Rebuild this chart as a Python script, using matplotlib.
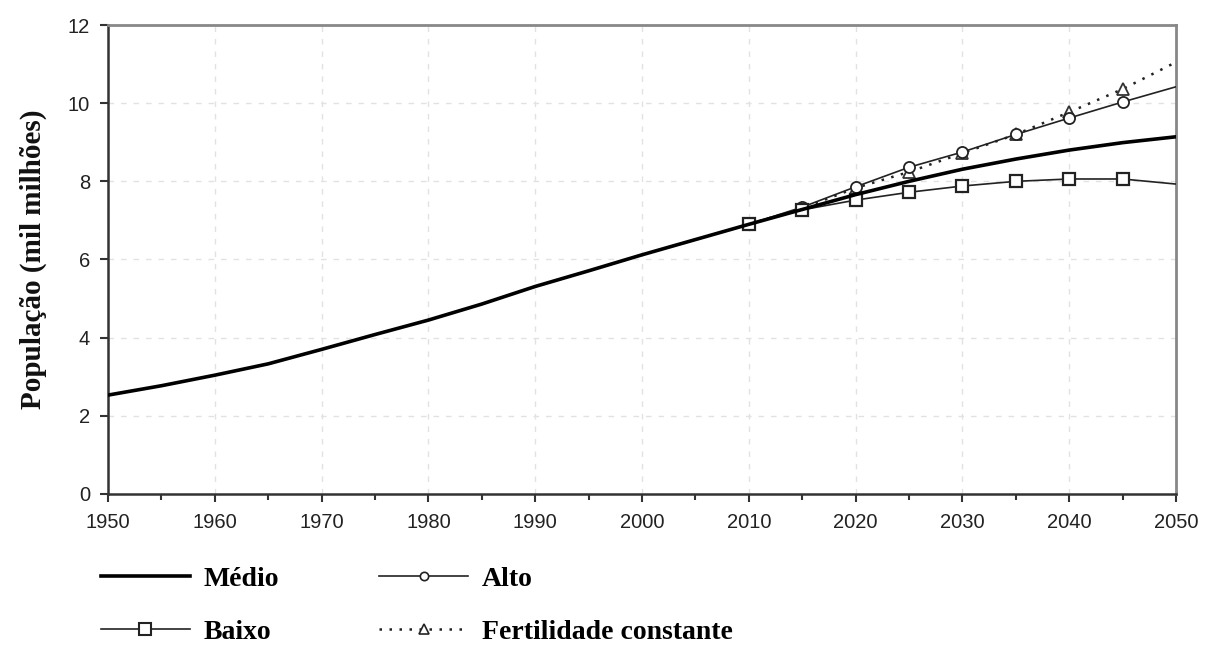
import numpy as np
from matplotlib import pyplot as plt
from matplotlib.lines import Line2D

years_hist = [1950, 1955, 1960, 1965, 1970, 1975, 1980, 1985, 1990, 1995,
              2000, 2005, 2010, 2015, 2020, 2025, 2030, 2035, 2040, 2045, 2050]
medio = [2.53, 2.77, 3.04, 3.33, 3.70, 4.08, 4.45, 4.86, 5.31, 5.71,
         6.12, 6.51, 6.90, 7.28, 7.66, 8.00, 8.31, 8.57, 8.80, 8.99, 9.14]

years_proj = [2010, 2015, 2020, 2025, 2030, 2035, 2040, 2045, 2050]
alto = [6.90, 7.34, 7.86, 8.36, 8.75, 9.20, 9.62, 10.03, 10.42]
baixo = [6.90, 7.27, 7.52, 7.72, 7.88, 8.00, 8.06, 8.06, 7.93]
fertilidade = [6.90, 7.31, 7.83, 8.24, 8.72, 9.20, 9.77, 10.36, 11.05]

TICK_FONT = ["Liberation Sans", "DejaVu Sans"]
SERIF = ["Liberation Serif", "DejaVu Serif"]

fig = plt.figure(figsize=(12.05, 6.46), dpi=100)
ax = fig.add_axes([0.0896, 0.2353, 0.8864, 0.7260])

ax.plot(years_hist, medio, color="black", lw=2.6, zorder=5)
# markers sit at every projection year except 2050
ax.plot(years_proj, alto, color="#222222", lw=1.2, marker="o", ms=8,
        mfc="white", mec="#222222", mew=1.3, markevery=range(0, 8), zorder=4)
ax.plot(years_proj, baixo, color="#222222", lw=1.2, marker="s", ms=9,
        mfc="white", mec="#222222", mew=1.6, markevery=range(0, 8), zorder=4)
ax.plot(years_proj, fertilidade, color="#222222", lw=1.8, ls=(0, (1, 3)),
        marker="^", ms=9, mfc="white", mec="#333333", mew=1.3,
        markevery=range(0, 8), zorder=3)

ax.set_xlim(1950, 2050)
ax.set_ylim(0, 12)
ax.set_xticks(np.arange(1950, 2051, 10))
ax.set_xticks(np.arange(1955, 2050, 10), minor=True)
ax.set_yticks(np.arange(0, 13, 2))
ax.grid(True, which="major", color="#e2e2e2", ls=(0, (4, 5)), lw=1)

for s in ["left", "bottom"]:
    ax.spines[s].set_color("#333333")
    ax.spines[s].set_linewidth(1.8)
for s in ["top", "right"]:
    ax.spines[s].set_color("#888888")
    ax.spines[s].set_linewidth(2)

ax.tick_params(which="both", direction="out", color="#333333", width=1.5)
ax.tick_params(which="major", length=6, labelsize=14.5, labelcolor="#222222")
ax.tick_params(axis="x", which="major", pad=8)
ax.tick_params(axis="y", which="major", pad=7)
ax.tick_params(which="minor", length=4)
for lab in ax.get_xticklabels() + ax.get_yticklabels():
    lab.set_family(TICK_FONT)

ax.set_ylabel("População (mil milhões)", family=SERIF, fontweight="bold",
              fontsize=21, color="#111111", labelpad=15)

handles = [
    Line2D([], [], color="black", lw=2.6),
    Line2D([], [], color="#222222", lw=1.2, marker="s", ms=8, mfc="white", mew=1.5),
    Line2D([], [], color="#222222", lw=1.2, marker="o", ms=6, mfc="white", mew=1.2),
    Line2D([], [], color="#222222", lw=1.8, ls=(0, (1, 3)), marker="^", ms=7,
           mfc="white", mew=1.2),
]
labels = ["Médio", "Baixo", "Alto", "Fertilidade constante"]
fig.legend(handles, labels, loc="lower left", bbox_to_anchor=(0.063, -0.037),
           ncol=2, frameon=False, handlelength=3.2, handletextpad=0.5,
           columnspacing=3.6, labelspacing=1.0,
           prop={"family": SERIF, "weight": "bold", "size": 20})

fig.savefig("out.png", dpi=100)
